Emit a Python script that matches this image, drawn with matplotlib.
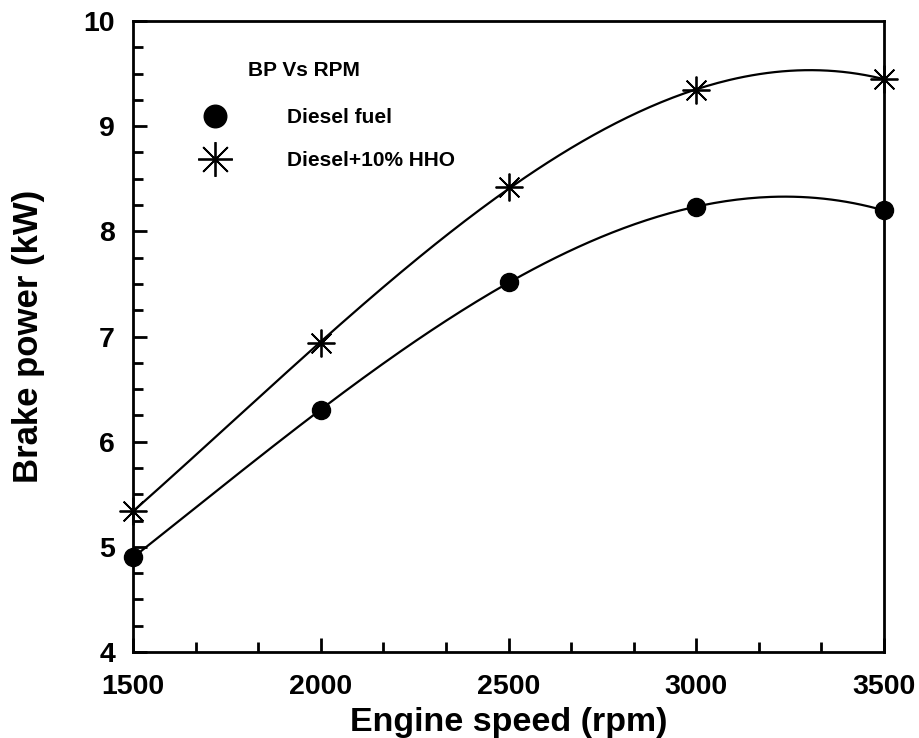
import numpy as np
import matplotlib
matplotlib.use('Agg')
from matplotlib import pyplot as plt
from matplotlib.ticker import MultipleLocator, AutoMinorLocator

# data
rpm = [1500, 2000, 2500, 3000, 3500]
bp_diesel = [4.90, 6.30, 7.52, 8.23, 8.20]
bp_hho = [5.34, 6.94, 8.42, 9.34, 9.45]

plt.rcParams['font.family'] = ['Liberation Sans', 'DejaVu Sans']
plt.rcParams['font.weight'] = 'bold'

fig = plt.figure(figsize=(9.19, 7.38), dpi=100)
ax = fig.add_axes([0.1447, 0.1165, 0.962 - 0.1447, 0.9715 - 0.1165])

# smooth curves like the original plotting package (cubic fit)
xs = np.linspace(rpm[0], rpm[-1], 200)
for ys in (bp_diesel, bp_hho):
    c = np.polyfit(rpm, ys, 3)
    ax.plot(xs, np.polyval(c, xs), color='black', lw=1.6)

star = (8, 2, 0)
ax.plot(rpm, bp_diesel, ls='none', marker='o', ms=13, color='black', label='Diesel fuel',
        clip_on=False, zorder=5)
ax.plot(rpm, bp_hho, ls='none', marker=star, ms=20, mew=1.3, color='black',
        label='Diesel+10% HHO', clip_on=False, zorder=5)

ax.set_xlim(1500, 3500)
ax.set_ylim(4, 10)
ax.xaxis.set_major_locator(MultipleLocator(500))
ax.xaxis.set_minor_locator(AutoMinorLocator(3))
ax.yaxis.set_major_locator(MultipleLocator(1))
ax.yaxis.set_minor_locator(AutoMinorLocator(4))
ax.tick_params(which='both', direction='in', top=False, right=False, width=2)
ax.tick_params(which='major', length=10, labelsize=20.5)
ax.tick_params(which='minor', length=7)
ax.tick_params(axis='x', pad=16)
ax.tick_params(axis='y', pad=13)
for s in ax.spines.values():
    s.set_linewidth(2)

ax.set_xlabel('Engine speed (rpm)', fontsize=24.5, fontweight='bold', labelpad=5)
ax.set_ylabel('Brake power (kW)', fontsize=25, fontweight='bold', labelpad=28)

ax.text(0.153, 0.922, 'BP Vs RPM', transform=ax.transAxes, fontsize=15,
        fontweight='bold', va='center', ha='left')
ax.legend(loc='upper left', bbox_to_anchor=(0.081, 0.862), frameon=False,
          fontsize=15, handletextpad=2.45, labelspacing=1.15, borderpad=0,
          borderaxespad=0, markerscale=1.25)

fig.savefig('out.png', dpi=100)
